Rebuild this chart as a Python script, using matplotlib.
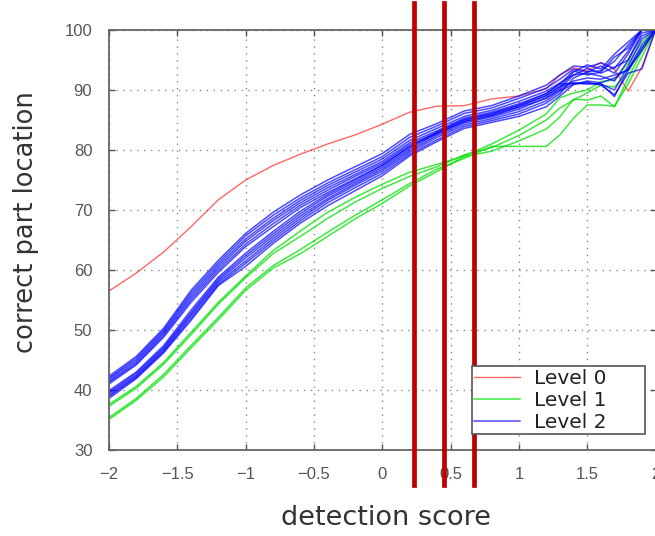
import matplotlib
matplotlib.use("Agg")
import matplotlib.pyplot as plt

# ---------------- data ----------------
x = [-2.0, -1.8, -1.6, -1.4, -1.2, -1.0, -0.8, -0.6, -0.4, -0.2, 0.0, 0.2, 0.4,
     0.6, 0.8, 1.0, 1.2, 1.3, 1.4, 1.5, 1.6, 1.7, 1.8, 1.9, 2.0]

level0 = [56.5, 59.5, 63.0, 67.2, 71.7, 75.0, 77.4, 79.3, 81.0, 82.5, 84.3, 86.3, 87.3,
          87.4, 88.5, 89.0, 90.2, 92.5, 93.7, 93.2, 94.6, 93.4, 89.8, 93.8, 100.0]

level1 = [
    [37.6, 40.6, 44.6, 49.6, 54.6, 59.0, 63.2, 66.5, 69.6, 72.1, 74.3, 76.3, 77.6,
     79.0, 81.0, 83.3, 86.0, 88.7, 89.5, 90.0, 91.4, 91.7, 94.5, 98.0, 100.0],
    [37.3, 40.3, 44.3, 49.2, 54.3, 58.7, 62.7, 65.6, 68.6, 71.3, 73.6, 75.6, 77.2,
     79.2, 80.4, 82.4, 85.0, 87.0, 88.3, 89.5, 90.8, 90.5, 93.0, 97.0, 100.0],
    [35.4, 38.6, 42.6, 47.4, 52.1, 57.0, 60.7, 63.4, 66.3, 69.1, 71.7, 74.4, 76.8,
     78.6, 80.6, 80.6, 80.6, 82.5, 85.3, 87.5, 87.5, 87.3, 91.0, 95.5, 100.0],
    [35.1, 38.3, 42.2, 47.0, 51.7, 56.6, 60.3, 62.7, 65.6, 68.5, 71.1, 74.0, 76.4,
     78.9, 79.8, 81.5, 83.5, 85.5, 88.5, 88.3, 89.0, 87.2, 92.0, 96.5, 100.0],
]

level2 = [
    [42.3, 45.6, 50.3, 56.6, 61.6, 66.1, 69.6, 72.5, 75.0, 77.2, 79.4, 82.6, 84.4,
     86.5, 87.4, 89.0, 90.8, 92.5, 94.0, 93.8, 94.5, 93.6, 96.5, 100.0, 100.0],
    [42.0, 45.3, 50.0, 56.2, 61.2, 65.7, 69.1, 72.0, 74.5, 76.7, 78.9, 82.1, 84.0,
     86.1, 87.0, 88.6, 90.3, 91.8, 93.5, 93.0, 93.2, 94.8, 97.5, 100.0, 100.0],
    [41.8, 45.0, 49.7, 55.8, 60.8, 65.2, 68.6, 71.6, 74.1, 76.3, 78.5, 81.6, 83.6,
     85.6, 86.6, 88.1, 89.8, 91.2, 92.5, 92.8, 92.3, 91.5, 95.0, 99.0, 100.0],
    [41.5, 44.7, 49.4, 55.4, 60.4, 64.8, 68.2, 71.2, 73.7, 75.9, 78.1, 81.2, 83.2,
     85.3, 86.3, 87.7, 89.4, 91.0, 91.1, 91.0, 91.1, 88.9, 93.5, 96.5, 100.0],
    [41.3, 44.4, 49.1, 55.0, 60.0, 64.3, 67.7, 70.8, 73.3, 75.6, 77.8, 80.9, 82.9,
     85.0, 86.0, 87.4, 89.0, 90.5, 93.0, 94.2, 93.5, 96.0, 98.0, 100.0, 100.0],
    [41.0, 44.2, 48.8, 54.6, 59.6, 63.9, 67.2, 70.4, 72.9, 75.2, 77.5, 80.6, 82.7,
     84.7, 85.7, 87.1, 88.6, 90.0, 91.5, 92.0, 91.8, 92.5, 93.3, 97.0, 100.0],
    [39.9, 43.0, 47.4, 53.3, 58.8, 62.8, 66.4, 69.8, 72.6, 75.0, 77.4, 80.5, 83.0,
     85.1, 86.1, 87.5, 89.4, 91.0, 93.2, 92.5, 93.0, 95.5, 97.0, 100.0, 100.0],
    [39.6, 42.8, 47.1, 52.9, 58.5, 62.4, 66.0, 69.4, 72.3, 74.7, 77.1, 80.2, 82.7,
     84.8, 85.8, 87.2, 89.1, 90.6, 91.2, 91.1, 91.0, 90.0, 94.0, 98.5, 100.0],
    [39.4, 42.5, 46.9, 52.6, 58.2, 62.0, 65.6, 69.0, 71.9, 74.4, 76.8, 79.9, 82.4,
     84.5, 85.5, 86.8, 88.7, 90.2, 92.5, 93.6, 92.8, 93.8, 95.0, 99.5, 100.0],
    [39.1, 42.3, 46.6, 52.3, 57.9, 61.5, 65.2, 68.6, 71.6, 74.1, 76.5, 79.6, 82.1,
     84.2, 85.2, 86.4, 88.2, 89.8, 91.0, 91.3, 90.8, 89.2, 92.8, 93.5, 100.0],
    [38.9, 42.1, 46.4, 51.9, 57.6, 61.1, 64.8, 68.2, 71.2, 73.7, 76.1, 79.3, 81.7,
     83.9, 84.9, 86.0, 87.8, 89.4, 92.0, 93.0, 94.0, 92.8, 96.0, 100.0, 100.0],
    [38.6, 41.9, 46.2, 51.6, 57.4, 60.6, 64.4, 67.8, 70.7, 73.2, 75.7, 79.0, 81.4,
     83.6, 84.6, 85.6, 87.2, 89.0, 90.9, 91.5, 91.2, 92.0, 93.5, 97.5, 100.0],
]

series_labels = ["Level 0", "Level 1", "Level 2"]
marker_x = [0.234, 0.453, 0.672]

xticks = [-2, -1.5, -1, -0.5, 0, 0.5, 1, 1.5, 2]
xtick_labels = ["\u22122", "\u22121.5", "\u22121", "\u22120.5", "0", "0.5", "1", "1.5", "2"]
yticks = [30, 40, 50, 60, 70, 80, 90, 100]
ytick_labels = ["30", "40", "50", "60", "70", "80", "90", "100"]

# ---------------- figure ----------------
W, H = 655, 536
fig = plt.figure(figsize=(W / 100, H / 100), dpi=100)
ax_l, ax_r, ax_t, ax_b = 109, 655.5, 30, 450
ax = fig.add_axes([ax_l / W, 1 - ax_b / H, (ax_r - ax_l) / W, (ax_b - ax_t) / H])

red_c = (1.0, 0.0, 0.0)
green_c = (0.0, 0.88, 0.0)
blue_c = (0.0, 0.0, 1.0)

l0, = ax.plot(x, level0, color=red_c, alpha=0.6, lw=1.0)
h1 = None
for s in level1:
    h, = ax.plot(x, s, color=green_c, alpha=0.75, lw=1.1)
    h1 = h if h1 is None else h1
h2 = None
for s in level2:
    h, = ax.plot(x, s, color=blue_c, alpha=0.7, lw=1.1)
    h2 = h if h2 is None else h2

ax.set_xlim(-2, 2)
ax.set_ylim(30, 100)
ax.set_xticks(xticks)
ax.set_xticklabels(xtick_labels)
ax.set_yticks(yticks)
ax.set_yticklabels(ytick_labels)

ax.grid(True, color="#888888", linestyle=(0, (1, 4)), lw=1.0)
ax.tick_params(direction="in", top=True, right=True, length=4, width=1,
               color="#555555", labelcolor="#555555", labelsize=12, pad=12)
for lab in ax.get_xticklabels() + ax.get_yticklabels():
    lab.set_fontfamily("Liberation Sans")
for sp in ax.spines.values():
    sp.set_color("#666666")
    sp.set_linewidth(1.3)

leg = ax.legend([l0, h1, h2], series_labels, loc="lower left",
                bbox_to_anchor=(0.6637, 0.038, 0.317, 0.0), mode="expand",
                borderaxespad=0, fontsize=14.5,
                fancybox=False, framealpha=1, edgecolor="#555555",
                labelspacing=0.15, handlelength=2.3, handletextpad=0.65,
                borderpad=0.12)
leg.get_frame().set_linewidth(1.2)
for t in leg.get_texts():
    t.set_color("#222222")

# red marker lines overlaid across the plot
for mx in marker_x:
    ax.axvline(mx, ymin=-0.083, ymax=1.064, color="#c00000", lw=3.4,
               clip_on=False, zorder=5)

fig.text(386 / W, 1 - 518 / H, "detection score", ha="center", va="center",
         fontsize=19.5, color="#333333")
fig.text(26 / W, 1 - 222 / H, "correct part location", ha="center", va="center",
         rotation=90, fontsize=18.5, color="#333333")

fig.savefig("out.png", dpi=100)
